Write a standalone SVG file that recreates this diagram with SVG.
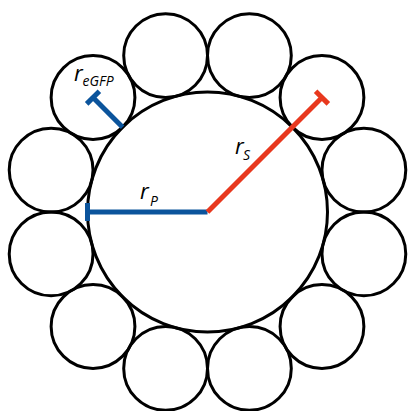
<svg xmlns="http://www.w3.org/2000/svg" width="408" height="411" viewBox="0 0 408 411">
<style>
.c{fill:none;stroke:#000;stroke-width:3}
.b{stroke:#0b549c;stroke-width:5;fill:none}
.r{stroke:#e8381e;stroke-width:5;fill:none}
.t{font-family:"Open Sans","Liberation Sans",Arial,sans-serif;font-style:italic;fill:#000}
.m{font-size:22px}
.s{font-size:14px}
</style>
<rect width="408" height="411" fill="#fff"/>
<g id="big"><circle class="c" cx="207.5" cy="212" r="120"/></g>
<g id="s15"><circle class="c" cx="363.88" cy="170.10" r="41.9"/></g>
<g id="s45"><circle class="c" cx="321.98" cy="97.52" r="41.9"/></g>
<g id="s75"><circle class="c" cx="249.40" cy="55.62" r="41.9"/></g>
<g id="s105"><circle class="c" cx="165.60" cy="55.62" r="41.9"/></g>
<g id="s135"><circle class="c" cx="93.02" cy="97.52" r="41.9"/></g>
<g id="s165"><circle class="c" cx="51.12" cy="170.10" r="41.9"/></g>
<g id="s195"><circle class="c" cx="51.12" cy="253.90" r="41.9"/></g>
<g id="s225"><circle class="c" cx="93.02" cy="326.48" r="41.9"/></g>
<g id="s255"><circle class="c" cx="165.60" cy="368.38" r="41.9"/></g>
<g id="s285"><circle class="c" cx="249.40" cy="368.38" r="41.9"/></g>
<g id="s315"><circle class="c" cx="321.98" cy="326.48" r="41.9"/></g>
<g id="s345"><circle class="c" cx="363.88" cy="253.90" r="41.9"/></g>
<g id="connectors">
<path class="b" d="M207.5 212H87.5M87.5 203V221"/>
<path class="b" d="M122.65 127.15L93.02 97.52M86.66 103.88L99.38 91.16"/>
<path class="r" d="M207.5 212L321.98 97.52M315.62 91.16L328.34 103.88"/>
</g>
<g id="labels">
<text class="t m" x="74" y="80.5">r</text><text class="t s" x="82.5" y="85.5">eGFP</text>
<text class="t m" x="140" y="199">r</text><text class="t s" x="150" y="206">P</text>
<text class="t m" x="235" y="154">r</text><text class="t s" x="243" y="160">S</text>
</g>
</svg>
